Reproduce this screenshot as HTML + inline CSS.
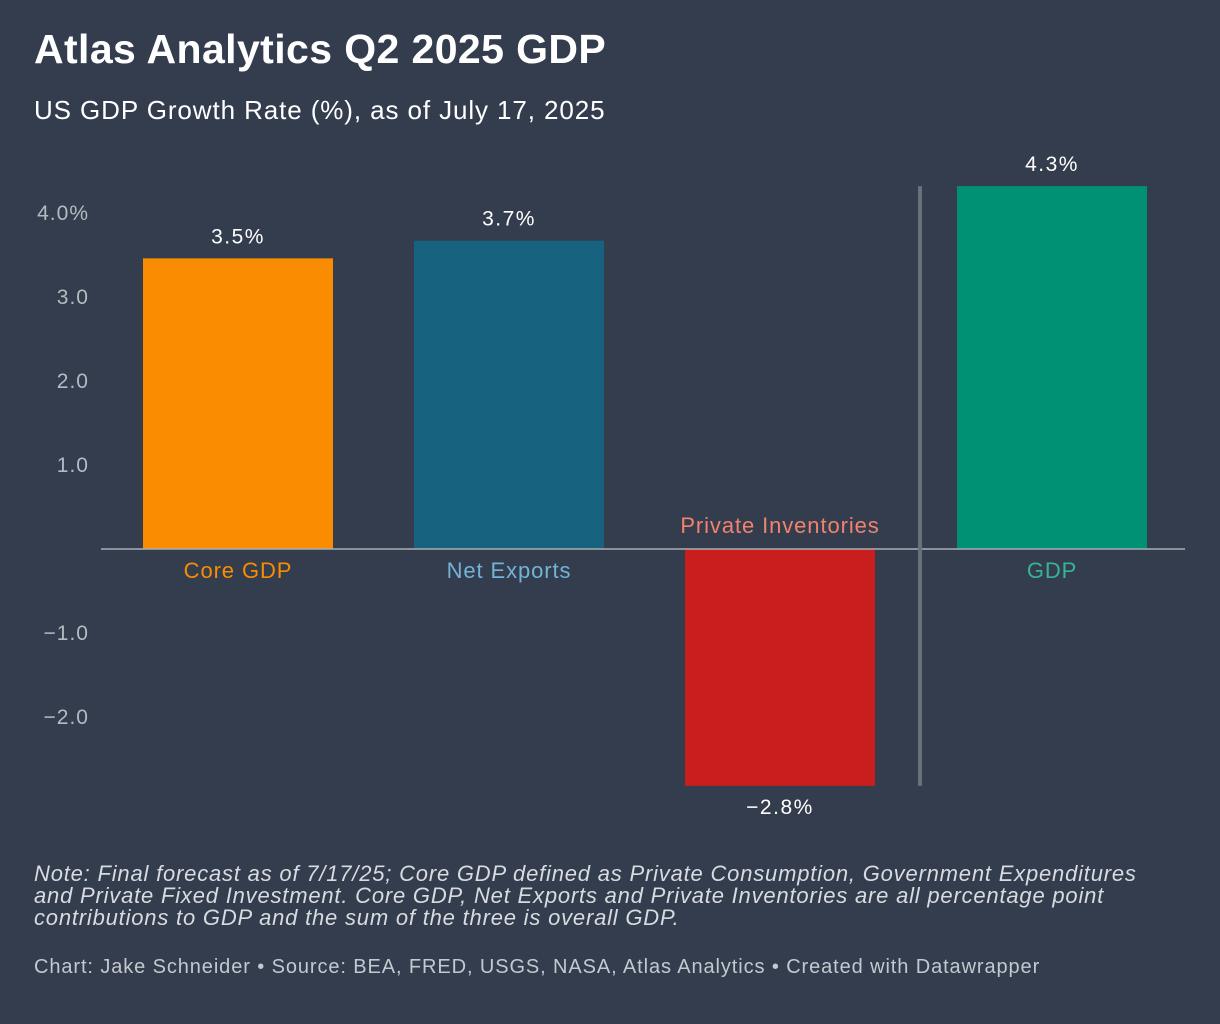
<!DOCTYPE html>
<html><head><meta charset="utf-8"><style>
body{margin:0;width:1220px;height:1024px;background:#333d4e;font-family:"Liberation Sans",Arial,sans-serif;overflow:hidden}
h1{position:absolute;left:34px;top:26px;margin:0;font-size:41px;font-weight:bold;color:#fff;letter-spacing:0.4px}
.sub{position:absolute;left:34px;top:95px;font-size:26px;color:#fff;letter-spacing:0.9px}
.note{position:absolute;left:34px;top:863px;width:1130px;font-size:22px;font-style:italic;color:#d8dbe0;line-height:22px;letter-spacing:0.8px}
.src{position:absolute;left:34px;top:956px;font-size:20px;color:#c4c8cf;letter-spacing:0.9px}
svg{position:absolute;left:0;top:0}
</style></head><body>
<h1>Atlas Analytics Q2 2025 GDP</h1>
<div class="sub">US GDP Growth Rate (%), as of July 17, 2025</div>
<svg id="chart" width="1220" height="1024"></svg>
<div class="note">Note: Final forecast as of 7/17/25; Core GDP defined as Private Consumption, Government Expenditures and Private Fixed Investment. Core GDP, Net Exports and Private Inventories are all percentage point contributions to GDP and the sum of the three is overall GDP.</div>
<div class="src">Chart: Jake Schneider • Source: BEA, FRED, USGS, NASA, Atlas Analytics • Created with Datawrapper</div>
<script>
const categories=["Core GDP","Net Exports","Private Inventories","GDP"];
const values=[3.46,3.67,-2.82,4.32];
const valueLabels=["3.5%","3.7%","\u22122.8%","4.3%"];
const tickValues=[4,3,2,1,-1,-2];
const tickLabels=["4.0%","3.0","2.0","1.0","\u22121.0","\u22122.0"];
const colors=["#f98c00","#17627e","#c81e1e","#009175"];
const labelColors=["#f98c00","#72b3d6","#f2826d","#35b497"];
const NS="http://www.w3.org/2000/svg";
const svg=document.getElementById('chart');
const y=v=>549-v*84;
const x=i=>143+i*271+(i===3?1:0);
const bw=190;
function mk(t,a){const e=document.createElementNS(NS,t);for(const k in a)e.setAttribute(k,a[k]);svg.appendChild(e);return e;}
tickValues.forEach((v,i)=>{const t=mk('text',{x:89,y:y(v)+7,'text-anchor':'end','font-size':21,'letter-spacing':1,fill:'#b5bac2'});t.textContent=tickLabels[i];

});
values.forEach((v,i)=>{
const top=v>=0?y(v):y(0);const h=Math.abs(y(v)-y(0));
const r=mk('rect',{x:x(i),y:top,width:bw,height:h,fill:colors[i]});


const vl=mk('text',{x:x(i)+bw/2,y:v>=0?y(v)-15:y(v)+28,'text-anchor':'middle','font-size':21,'letter-spacing':1.5,fill:'#fff'});vl.textContent=valueLabels[i];


const cl=mk('text',{x:x(i)+bw/2,y:v>=0?y(0)+29:y(0)-16,'text-anchor':'middle','font-size':22,'letter-spacing':0.9,fill:labelColors[i]});cl.textContent=categories[i];


});
const b=mk('line',{x1:101,x2:1185,y1:y(0),y2:y(0),stroke:'#a9aeb6','stroke-width':1.5});


const s=mk('line',{x1:920,x2:920,y1:y(Math.max(...values)),y2:y(Math.min(...values)),stroke:'#6b717b','stroke-width':4});


</script>
</body></html>
